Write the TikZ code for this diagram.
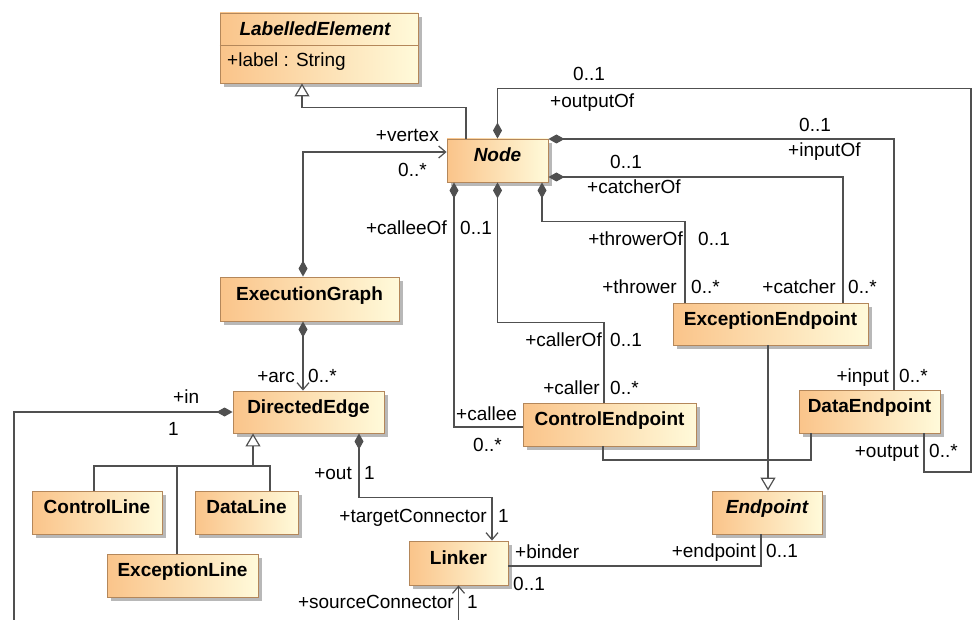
\documentclass[tikz,border=0pt]{standalone}
\usepackage{fontspec}
\setmainfont{Liberation Sans}
\usetikzlibrary{arrows.meta,shadows}
\definecolor{clsleft}{RGB}{250,196,138}
\definecolor{clsright}{RGB}{255,250,218}
\definecolor{clsborder}{RGB}{180,135,90}
\definecolor{linkgray}{RGB}{80,80,80}
\tikzset{
	cls/.style={draw=clsborder, line width=0.9pt, left color=clsleft, right color=clsright, minimum height=43pt, inner sep=0pt, text height=14pt, text depth=12pt, font=\fontsize{19}{22}\selectfont\bfseries, drop shadow={shadow xshift=4pt, shadow yshift=-4pt, fill=black!28, opacity=1}},
	abstr/.style={cls, font=\fontsize{19}{22}\selectfont\bfseries\itshape},
	lbl/.style={inner sep=0pt, font=\fontsize{19}{22}\selectfont},
	link/.style={draw=linkgray, line width=1.2pt},
	comp/.style={link, {Diamond[length=16pt,width=9pt]}-},
	compnav/.style={link, {Diamond[length=16pt,width=9pt]}-{Straight Barb[length=7pt,width=12pt]}},
	nav/.style={link, -{Straight Barb[length=7pt,width=12pt]}},
	gen/.style={link, -{Triangle[open,length=13pt,width=15pt,fill=white]}}
}
\begin{document}
\begin{tikzpicture}[x=1pt,y=-1pt]
	\useasboundingbox (0,0) rectangle (976,620);
	\node[abstr, minimum width=198pt, minimum height=70pt] (le) at (319,48) {};
	\node[lbl, font=\fontsize{19}{22}\selectfont\bfseries\itshape] (leName) at (315,29) {LabelledElement};
	\draw[clsborder, line width=0.9pt] ([yshift=3pt]le.west) -- ([yshift=3pt]le.east);
	\node[lbl, anchor=west] (leAttr) at (227,62) {+label : String};
	\node[abstr, minimum width=101pt] (nodeBox) at (497.5,160.5) {Node};
	\node[cls, minimum width=179pt, minimum height=44pt] (graph) at (309.5,299) {ExecutionGraph};
	\node[cls, minimum width=151pt, minimum height=42pt] (edge) at (308.5,412) {DirectedEdge};
	\node[cls, minimum width=130pt] (ctrlLine) at (97,512.5) {ControlLine};
	\node[cls, minimum width=103pt] (dataLine) at (246.5,512.5) {DataLine};
	\node[cls, minimum width=151pt] (excLine) at (182.5,575.5) {ExceptionLine};
	\node[cls, minimum width=99pt, minimum height=44pt] (linker) at (458.5,563) {Linker};
	\node[cls, minimum width=173pt] (ctrlEnd) at (609.5,424.5) {ControlEndpoint};
	\node[cls, minimum width=195pt, minimum height=42pt] (excEnd) at (770.5,324) {ExceptionEndpoint};
	\node[cls, minimum width=141pt] (dataEnd) at (869.5,411.5) {DataEndpoint};
	\node[abstr, minimum width=110pt] (endpoint) at (767,512.5) {Endpoint};
	\coordinate (outCorner) at (971,472);
	\coordinate (inEnd) at (14,620);
	\coordinate (srcEnd) at (458.5,620);
	\coordinate (edgeJoin) at (253,466);
	\coordinate (epJoin) at (768,460);

	\draw[gen] ([xshift=-31.5pt]nodeBox.north) -- ++(0,-31) -| ([xshift=-17pt]le.south);
	\draw[compnav] ([xshift=-6.5pt]graph.north) |- ([yshift=8.5pt]nodeBox.west);
	\node[lbl, anchor=base east] (vertexRole) at (439,142) {+vertex};
	\node[lbl, anchor=base west] (vertexMult) at (398,177) {0..*};
	\draw[comp] (nodeBox.north) -- ++(0,-50) -| (outCorner) -| ([xshift=54.5pt]dataEnd.south);
	\node[lbl, anchor=base west] (outputOfMult) at (573,81) {0..1};
	\node[lbl, anchor=base west] (outputOfRole) at (550,108) {+outputOf};
	\node[lbl, anchor=base east] (outputRole) at (919,457) {+output};
	\node[lbl, anchor=base west] (outputMult) at (929,457) {0..*};
	\draw[comp] ([yshift=21.5pt]nodeBox.east) -| ([xshift=24.5pt]dataEnd.north);
	\node[lbl, anchor=base west] (inputOfMult) at (799,132) {0..1};
	\node[lbl, anchor=base west] (inputOfRole) at (788,157) {+inputOf};
	\node[lbl, anchor=base east] (inputRole) at (889,382) {+input};
	\node[lbl, anchor=base west] (inputMult) at (899,382) {0..*};
	\draw[comp] ([yshift=-16.5pt]nodeBox.east) -| ([xshift=72.5pt]excEnd.north);
	\node[lbl, anchor=base west] (catcherOfMult) at (610,169) {0..1};
	\node[lbl, anchor=base west] (catcherOfRole) at (587,194) {+catcherOf};
	\node[lbl, anchor=base east] (catcherRole) at (836,293) {+catcher};
	\node[lbl, anchor=base west] (catcherMult) at (848,293) {0..*};
	\draw[comp] ([xshift=44.5pt]nodeBox.south) -- ++(0,39) -| ([xshift=-85.5pt]excEnd.north);
	\node[lbl, anchor=base east] (throwerOfRole) at (683,245) {+throwerOf};
	\node[lbl, anchor=base west] (throwerOfMult) at (698,245) {0..1};
	\node[lbl, anchor=base east] (throwerRole) at (677,293) {+thrower};
	\node[lbl, anchor=base west] (throwerMult) at (691,293) {0..*};
	\draw[comp] (nodeBox.south) -- ++(0,140) -| ([xshift=-5.5pt]ctrlEnd.north);
	\node[lbl, anchor=base east] (callerOfRole) at (602,346) {+callerOf};
	\node[lbl, anchor=base west] (callerOfMult) at (610,346) {0..1};
	\node[lbl, anchor=base east] (callerRole) at (600,394) {+caller};
	\node[lbl, anchor=base west] (callerMult) at (610,394) {0..*};
	\draw[comp] ([xshift=-43.5pt]nodeBox.south) |- ([yshift=-2.5pt]ctrlEnd.west);
	\node[lbl, anchor=base east] (calleeOfRole) at (447,234) {+calleeOf};
	\node[lbl, anchor=base west] (calleeOfMult) at (460,234) {0..1};
	\node[lbl, anchor=base west] (calleeRole) at (456,420) {+callee};
	\node[lbl, anchor=base west] (calleeMult) at (473,451) {0..*};
	\draw[compnav] ([xshift=-6.5pt]graph.south) -- ([xshift=-5.5pt]edge.north);
	\node[lbl, anchor=base east] (arcRole) at (295,382) {+arc};
	\node[lbl, anchor=base west] (arcMult) at (308,382) {0..*};
	\draw[comp] (edge.west) -| (inEnd);
	\node[lbl, anchor=base west] (inRole) at (173,403) {+in};
	\node[lbl, anchor=base west] (inMult) at (168,435) {1};
	\draw[compnav] ([xshift=50.5pt]edge.south) -- ++(0,64) -| ([xshift=33.5pt]linker.north);
	\node[lbl, anchor=base east] (outRole) at (352,479) {+out};
	\node[lbl, anchor=base west] (outMult) at (364,479) {1};
	\node[lbl, anchor=base east] (targetRole) at (487,522) {+targetConnector};
	\node[lbl, anchor=base west] (targetMult) at (498,522) {1};
	\draw[nav] (srcEnd) -- (linker.south);
	\node[lbl, anchor=base east] (sourceRole) at (454,608) {+sourceConnector};
	\node[lbl, anchor=base west] (sourceMult) at (467,608) {1};
	\draw[link] ([yshift=-3pt]linker.east) -| ([xshift=-6pt]endpoint.south);
	\node[lbl, anchor=base west] (binderRole) at (515,558) {+binder};
	\node[lbl, anchor=base west] (binderMult) at (513,590) {0..1};
	\node[lbl, anchor=base east] (endpointRole) at (756,557) {+endpoint};
	\node[lbl, anchor=base west] (endpointMult) at (766,557) {0..1};
	\draw[gen] (edgeJoin) -- ([xshift=-55.5pt]edge.south);
	\draw[link] ([xshift=-3pt]ctrlLine.north) |- (edgeJoin) -| ([xshift=23.5pt]dataLine.north);
	\draw[link] ([xshift=-5.5pt]excLine.north) |- (edgeJoin);
	\draw[gen] ([xshift=-2.5pt]excEnd.south) -- ([xshift=1pt]endpoint.north);
	\draw[link] ([xshift=-6.5pt]ctrlEnd.south) |- (epJoin) -| ([xshift=-58.5pt]dataEnd.south);
\end{tikzpicture}
\end{document}
